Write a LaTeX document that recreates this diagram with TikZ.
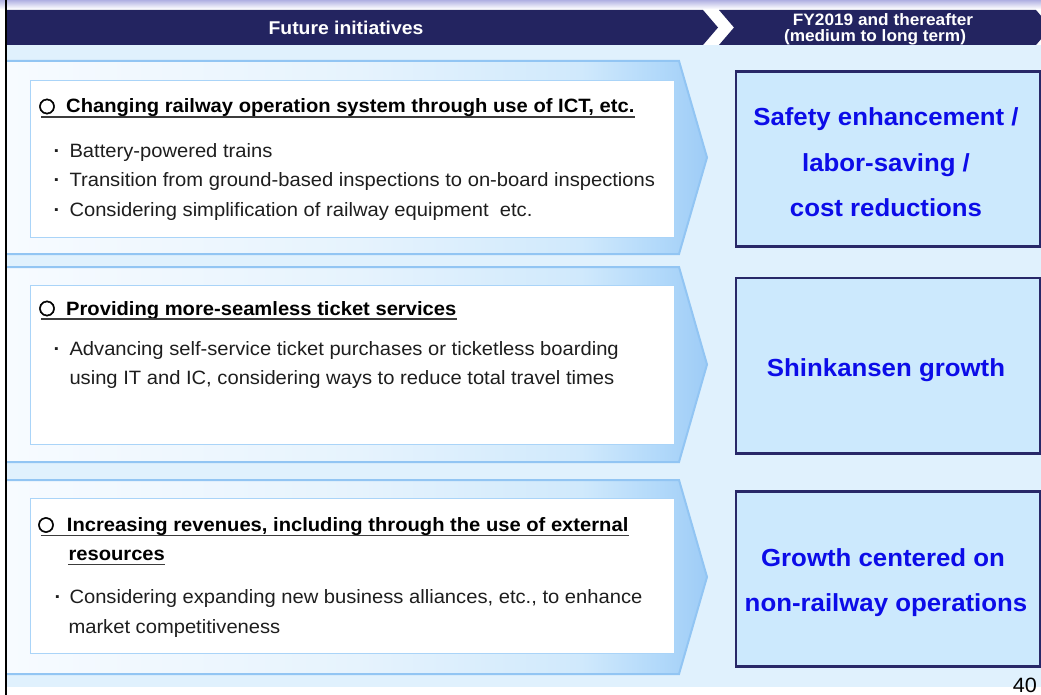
\documentclass[tikz,border=0pt]{standalone}
\usepackage{fontspec}
\setmainfont{Liberation Sans}[FakeStretch=1.045]
\newfontfamily\symfont{DejaVu Sans}[FakeBold=2.5]
\definecolor{navy}{RGB}{35,36,96}
\definecolor{navyline}{RGB}{40,40,104}
\definecolor{pagebg}{RGB}{224,241,253}
\definecolor{topline}{RGB}{176,176,226}
\definecolor{bandA}{RGB}{247,251,255}
\definecolor{bandB}{RGB}{230,243,253}
\definecolor{bandC}{RGB}{208,233,252}
\definecolor{bandD}{RGB}{178,217,250}
\definecolor{bandE}{RGB}{158,204,246}
\definecolor{bandline}{RGB}{146,197,243}
\definecolor{wboxline}{RGB}{170,212,248}
\definecolor{goalfill}{RGB}{204,233,253}
\definecolor{goalblue}{RGB}{12,12,232}
\definecolor{bodytext}{RGB}{30,30,30}
\definecolor{ulcolor}{RGB}{60,60,60}
% band fill: the middle 50bp span the band from its left end to the tip
\pgfdeclarehorizontalshading{bandshade}{100bp}{color(0bp)=(bandA); color(25bp)=(bandA); color(50bp)=(bandB); color(66bp)=(bandC); color(71.5bp)=(bandD); color(75bp)=(bandE); color(100bp)=(bandE)}
\begin{document}
\begin{tikzpicture}[x=1pt,y=-1pt,
  bodytxt/.style={inner sep=0pt, anchor=base west, font=\fontsize{19.3}{23}\selectfont, text=bodytext},
  headtxt/.style={inner sep=0pt, anchor=base west, font=\fontsize{19.3}{23}\selectfont\bfseries, text=black},
  dotmark/.style={inner sep=0pt, anchor=base, font=\fontsize{19.3}{23}\selectfont\bfseries, text=bodytext},
  ringmark/.style={inner sep=0pt, anchor=center, font=\symfont\fontsize{20}{22}\selectfont, text=black},
  goaltxt/.style={inner sep=0pt, anchor=base, font=\fontsize{24.7}{28}\selectfont\bfseries, text=goalblue},
  hdrtxt/.style={inner sep=0pt, anchor=base, font=\fontsize{18.5}{20}\selectfont\bfseries, text=white},
  hdrsmall/.style={inner sep=0pt, anchor=base, font=\fontsize{16.5}{18}\selectfont\bfseries, text=white},
  wbox/.style={draw=wboxline, line width=1pt, fill=white, inner sep=0pt, anchor=north west},
  gbox/.style={draw=navyline, line width=2.6pt, fill=goalfill, inner sep=0pt, anchor=north west},
  uline/.style={draw=ulcolor, line width=1.3pt},
  bandedge/.style={draw=bandline, line width=2pt},
]
\useasboundingbox (0,0) rectangle (1041,695);
\clip (0,0) rectangle (1041,695);

% thin strip along the top edge
\shade[top color=topline, bottom color=white] (0,0) rectangle (1041,9);

% page background
\fill[pagebg] (7,45) rectangle (1041,687);

% header bar: two chevron segments
\fill[navy] (7,10) -- (703,10) -- (718,27.5) -- (703,45) -- (7,45) -- cycle;
\fill[navy] (719,10) -- (1036,10) -- (1051,27.5) -- (1036,45) -- (719,45) -- (734,27.5) -- cycle;
\node[hdrtxt] (hleft) at (346,34.3) {Future initiatives};
\node[hdrsmall] (hright1) at (883,26) {FY2019 and thereafter};
\node[hdrsmall] (hright2) at (875,41.5) {(medium to long term)};

% three arrow bands
\shade[shading=bandshade] (7,61) -- (679,61) -- (707,157.5) -- (679,254) -- (7,254) -- cycle;
\draw[bandedge] (7,61) -- (679,61) -- (707,157.5) -- (679,254) -- (7,254);
\shade[shading=bandshade] (7,267) -- (679,267) -- (707,364.5) -- (679,462) -- (7,462) -- cycle;
\draw[bandedge] (7,267) -- (679,267) -- (707,364.5) -- (679,462) -- (7,462);
\shade[shading=bandshade] (7,480) -- (679,480) -- (707,577) -- (679,674) -- (7,674) -- cycle;
\draw[bandedge] (7,480) -- (679,480) -- (707,577) -- (679,674) -- (7,674);

% white text panels
\node[wbox, minimum width=644pt, minimum height=157pt] (panel1) at (30,80) {};
\node[wbox, minimum width=644pt, minimum height=159pt] (panel2) at (30,285) {};
\node[wbox, minimum width=644.5pt, minimum height=155pt] (panel3) at (29.5,498) {};

% outcome boxes
\node[gbox, minimum width=304.2pt, minimum height=175.3pt] (goal1) at (734.5,70) {};
\node[gbox, minimum width=304.2pt, minimum height=175.3pt] (goal2) at (734.5,276.7) {};
\node[gbox, minimum width=304.2pt, minimum height=175.3pt] (goal3) at (734.5,490) {};

% panel 1
\node[ringmark] (ring1) at (47,106.5) {○};
\node[headtxt] (head1) at (66,113) {Changing railway operation system through use of ICT, etc.};
\draw[uline] (41,117) -- ([yshift=-4pt]head1.base east);
\node[dotmark] (dot11) at (57,158) {·};
\node[bodytxt] (item11) at (69.3,158) {Battery-powered trains};
\node[dotmark] (dot12) at (57,187) {·};
\node[bodytxt] (item12) at (69.3,187) {Transition from ground-based inspections to on-board inspections};
\node[dotmark] (dot13) at (57,216) {·};
\node[bodytxt] (item13) at (69.3,216) {Considering simplification of railway equipment~~etc.};

% panel 2
\node[ringmark] (ring2) at (47,308.5) {○};
\node[headtxt] (head2) at (66,315) {Providing more-seamless ticket services};
\draw[uline] (41,319) -- ([yshift=-4pt]head2.base east);
\node[dotmark] (dot21) at (57,355) {·};
\node[bodytxt] (item21) at (69.3,355) {Advancing self-service ticket purchases or ticketless boarding};
\node[bodytxt] (item22) at (69.3,384) {using IT and IC, considering ways to reduce total travel times};

% panel 3
\node[ringmark] (ring3) at (46,525) {○};
\node[headtxt] (head3) at (66.7,531.5) {Increasing revenues, including through the use of external~};
\draw[uline] (40.5,535.5) -- ([yshift=-4pt]head3.base east);
\node[headtxt] (head3b) at (68.3,560.5) {resources};
\draw[uline] ([yshift=-4pt]head3b.base west) -- ([yshift=-4pt]head3b.base east);
\node[dotmark] (dot31) at (58,603) {·};
\node[bodytxt] (item31) at (69.3,603) {Considering expanding new business alliances, etc., to enhance};
\node[bodytxt] (item32) at (68.3,633) {market competitiveness};

% outcome texts
\node[goaltxt] (g11) at (886,126) {Safety enhancement /};
\node[goaltxt] (g12) at (886,171.7) {labor-saving /};
\node[goaltxt] (g13) at (886,216.7) {cost reductions};
\node[goaltxt] (g21) at (886,376.7) {Shinkansen growth};
\node[goaltxt] (g31) at (883,566.7) {Growth centered on};
\node[goaltxt] (g32) at (886,611.7) {non-railway operations};

% left rule and page number
\fill[black] (4.5,0) rectangle (6.5,695);
\node[inner sep=0pt, anchor=base east, font=\fontsize{20.7}{22}\selectfont] (pageno) at (1037,692.7) {40};
\end{tikzpicture}
\end{document}
